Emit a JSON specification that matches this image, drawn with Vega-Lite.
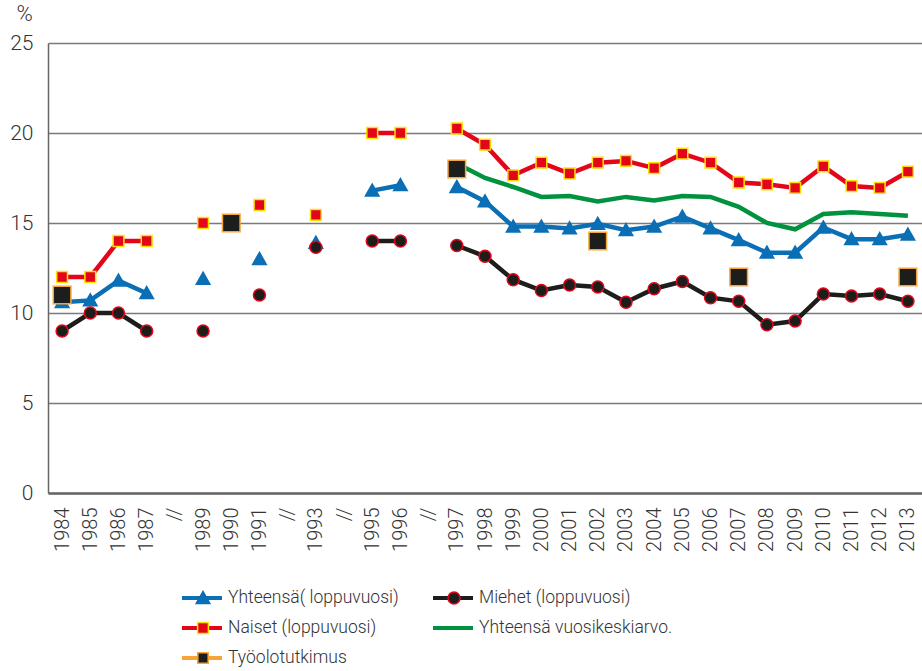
{
  "$schema": "https://vega.github.io/schema/vega-lite/v6.json",
  "width": 874,
  "height": 450,
  "autosize": {"type": "none"},
  "padding": {"left": 48, "top": 43, "right": 0, "bottom": 178},
  "background": "white",
  "config": {
    "view": {"stroke": null},
    "font": "Roboto",
    "axis": {"labelColor": "#333333", "titleColor": "#333333", "labelFont": "Roboto", "titleFont": "Roboto", "labelFontWeight": 300, "titleFontWeight": 300},
    "legend": {"labelFont": "Roboto", "labelFontWeight": 300}
  },
  "data": {
    "values": [
      {"year": "1984", "series": "Yhteensä( loppuvuosi)", "value": 10.6},
      {"year": "1985", "series": "Yhteensä( loppuvuosi)", "value": 10.7},
      {"year": "1986", "series": "Yhteensä( loppuvuosi)", "value": 11.8},
      {"year": "1987", "series": "Yhteensä( loppuvuosi)", "value": 11.1},
      {"year": "1988/", "series": "Yhteensä( loppuvuosi)", "value": null},
      {"year": "1989", "series": "Yhteensä( loppuvuosi)", "value": 11.9},
      {"year": "1990", "series": "Yhteensä( loppuvuosi)", "value": null},
      {"year": "1991", "series": "Yhteensä( loppuvuosi)", "value": 13.0},
      {"year": "1992/", "series": "Yhteensä( loppuvuosi)", "value": null},
      {"year": "1993", "series": "Yhteensä( loppuvuosi)", "value": 13.9},
      {"year": "1994/", "series": "Yhteensä( loppuvuosi)", "value": null},
      {"year": "1995", "series": "Yhteensä( loppuvuosi)", "value": 16.8},
      {"year": "1996", "series": "Yhteensä( loppuvuosi)", "value": 17.1},
      {"year": "1996/", "series": "Yhteensä( loppuvuosi)", "value": null},
      {"year": "1997", "series": "Yhteensä( loppuvuosi)", "value": 17.0},
      {"year": "1998", "series": "Yhteensä( loppuvuosi)", "value": 16.2},
      {"year": "1999", "series": "Yhteensä( loppuvuosi)", "value": 14.8},
      {"year": "2000", "series": "Yhteensä( loppuvuosi)", "value": 14.8},
      {"year": "2001", "series": "Yhteensä( loppuvuosi)", "value": 14.7},
      {"year": "2002", "series": "Yhteensä( loppuvuosi)", "value": 14.95},
      {"year": "2003", "series": "Yhteensä( loppuvuosi)", "value": 14.6},
      {"year": "2004", "series": "Yhteensä( loppuvuosi)", "value": 14.8},
      {"year": "2005", "series": "Yhteensä( loppuvuosi)", "value": 15.35},
      {"year": "2006", "series": "Yhteensä( loppuvuosi)", "value": 14.7},
      {"year": "2007", "series": "Yhteensä( loppuvuosi)", "value": 14.05},
      {"year": "2008", "series": "Yhteensä( loppuvuosi)", "value": 13.35},
      {"year": "2009", "series": "Yhteensä( loppuvuosi)", "value": 13.35},
      {"year": "2010", "series": "Yhteensä( loppuvuosi)", "value": 14.75},
      {"year": "2011", "series": "Yhteensä( loppuvuosi)", "value": 14.1},
      {"year": "2012", "series": "Yhteensä( loppuvuosi)", "value": 14.1},
      {"year": "2013", "series": "Yhteensä( loppuvuosi)", "value": 14.35},

      {"year": "1984", "series": "Miehet (loppuvuosi)", "value": 9.0},
      {"year": "1985", "series": "Miehet (loppuvuosi)", "value": 10.0},
      {"year": "1986", "series": "Miehet (loppuvuosi)", "value": 10.0},
      {"year": "1987", "series": "Miehet (loppuvuosi)", "value": 9.0},
      {"year": "1988/", "series": "Miehet (loppuvuosi)", "value": null},
      {"year": "1989", "series": "Miehet (loppuvuosi)", "value": 9.0},
      {"year": "1990", "series": "Miehet (loppuvuosi)", "value": null},
      {"year": "1991", "series": "Miehet (loppuvuosi)", "value": 11.0},
      {"year": "1992/", "series": "Miehet (loppuvuosi)", "value": null},
      {"year": "1993", "series": "Miehet (loppuvuosi)", "value": 13.65},
      {"year": "1994/", "series": "Miehet (loppuvuosi)", "value": null},
      {"year": "1995", "series": "Miehet (loppuvuosi)", "value": 14.0},
      {"year": "1996", "series": "Miehet (loppuvuosi)", "value": 14.0},
      {"year": "1996/", "series": "Miehet (loppuvuosi)", "value": null},
      {"year": "1997", "series": "Miehet (loppuvuosi)", "value": 13.75},
      {"year": "1998", "series": "Miehet (loppuvuosi)", "value": 13.15},
      {"year": "1999", "series": "Miehet (loppuvuosi)", "value": 11.85},
      {"year": "2000", "series": "Miehet (loppuvuosi)", "value": 11.25},
      {"year": "2001", "series": "Miehet (loppuvuosi)", "value": 11.55},
      {"year": "2002", "series": "Miehet (loppuvuosi)", "value": 11.45},
      {"year": "2003", "series": "Miehet (loppuvuosi)", "value": 10.6},
      {"year": "2004", "series": "Miehet (loppuvuosi)", "value": 11.35},
      {"year": "2005", "series": "Miehet (loppuvuosi)", "value": 11.75},
      {"year": "2006", "series": "Miehet (loppuvuosi)", "value": 10.85},
      {"year": "2007", "series": "Miehet (loppuvuosi)", "value": 10.65},
      {"year": "2008", "series": "Miehet (loppuvuosi)", "value": 9.35},
      {"year": "2009", "series": "Miehet (loppuvuosi)", "value": 9.55},
      {"year": "2010", "series": "Miehet (loppuvuosi)", "value": 11.05},
      {"year": "2011", "series": "Miehet (loppuvuosi)", "value": 10.95},
      {"year": "2012", "series": "Miehet (loppuvuosi)", "value": 11.05},
      {"year": "2013", "series": "Miehet (loppuvuosi)", "value": 10.65},

      {"year": "1984", "series": "Naiset (loppuvuosi)", "value": 12.0},
      {"year": "1985", "series": "Naiset (loppuvuosi)", "value": 12.0},
      {"year": "1986", "series": "Naiset (loppuvuosi)", "value": 14.0},
      {"year": "1987", "series": "Naiset (loppuvuosi)", "value": 14.0},
      {"year": "1988/", "series": "Naiset (loppuvuosi)", "value": null},
      {"year": "1989", "series": "Naiset (loppuvuosi)", "value": 15.0},
      {"year": "1990", "series": "Naiset (loppuvuosi)", "value": null},
      {"year": "1991", "series": "Naiset (loppuvuosi)", "value": 16.0},
      {"year": "1992/", "series": "Naiset (loppuvuosi)", "value": null},
      {"year": "1993", "series": "Naiset (loppuvuosi)", "value": 15.45},
      {"year": "1994/", "series": "Naiset (loppuvuosi)", "value": null},
      {"year": "1995", "series": "Naiset (loppuvuosi)", "value": 20.0},
      {"year": "1996", "series": "Naiset (loppuvuosi)", "value": 20.0},
      {"year": "1996/", "series": "Naiset (loppuvuosi)", "value": null},
      {"year": "1997", "series": "Naiset (loppuvuosi)", "value": 20.25},
      {"year": "1998", "series": "Naiset (loppuvuosi)", "value": 19.35},
      {"year": "1999", "series": "Naiset (loppuvuosi)", "value": 17.65},
      {"year": "2000", "series": "Naiset (loppuvuosi)", "value": 18.35},
      {"year": "2001", "series": "Naiset (loppuvuosi)", "value": 17.75},
      {"year": "2002", "series": "Naiset (loppuvuosi)", "value": 18.35},
      {"year": "2003", "series": "Naiset (loppuvuosi)", "value": 18.45},
      {"year": "2004", "series": "Naiset (loppuvuosi)", "value": 18.05},
      {"year": "2005", "series": "Naiset (loppuvuosi)", "value": 18.85},
      {"year": "2006", "series": "Naiset (loppuvuosi)", "value": 18.35},
      {"year": "2007", "series": "Naiset (loppuvuosi)", "value": 17.25},
      {"year": "2008", "series": "Naiset (loppuvuosi)", "value": 17.15},
      {"year": "2009", "series": "Naiset (loppuvuosi)", "value": 16.95},
      {"year": "2010", "series": "Naiset (loppuvuosi)", "value": 18.15},
      {"year": "2011", "series": "Naiset (loppuvuosi)", "value": 17.05},
      {"year": "2012", "series": "Naiset (loppuvuosi)", "value": 16.95},
      {"year": "2013", "series": "Naiset (loppuvuosi)", "value": 17.85},

      {"year": "1997", "series": "Yhteensä vuosikeskiarvo.", "value": 18.3},
      {"year": "1998", "series": "Yhteensä vuosikeskiarvo.", "value": 17.5},
      {"year": "1999", "series": "Yhteensä vuosikeskiarvo.", "value": 17.0},
      {"year": "2000", "series": "Yhteensä vuosikeskiarvo.", "value": 16.45},
      {"year": "2001", "series": "Yhteensä vuosikeskiarvo.", "value": 16.5},
      {"year": "2002", "series": "Yhteensä vuosikeskiarvo.", "value": 16.2},
      {"year": "2003", "series": "Yhteensä vuosikeskiarvo.", "value": 16.45},
      {"year": "2004", "series": "Yhteensä vuosikeskiarvo.", "value": 16.25},
      {"year": "2005", "series": "Yhteensä vuosikeskiarvo.", "value": 16.5},
      {"year": "2006", "series": "Yhteensä vuosikeskiarvo.", "value": 16.45},
      {"year": "2007", "series": "Yhteensä vuosikeskiarvo.", "value": 15.9},
      {"year": "2008", "series": "Yhteensä vuosikeskiarvo.", "value": 15.0},
      {"year": "2009", "series": "Yhteensä vuosikeskiarvo.", "value": 14.65},
      {"year": "2010", "series": "Yhteensä vuosikeskiarvo.", "value": 15.5},
      {"year": "2011", "series": "Yhteensä vuosikeskiarvo.", "value": 15.6},
      {"year": "2012", "series": "Yhteensä vuosikeskiarvo.", "value": 15.5},
      {"year": "2013", "series": "Yhteensä vuosikeskiarvo.", "value": 15.4},

      {"year": "1984", "series": "Työolotutkimus", "value": 11.0},
      {"year": "1990", "series": "Työolotutkimus", "value": 15.0},
      {"year": "1997", "series": "Työolotutkimus", "value": 18.0},
      {"year": "2002", "series": "Työolotutkimus", "value": 14.0},
      {"year": "2007", "series": "Työolotutkimus", "value": 12.0},
      {"year": "2013", "series": "Työolotutkimus", "value": 12.0}
    ]
  },
  "encoding": {
    "x": {
      "field": "year",
      "type": "ordinal",
      "scale": {
        "type": "point",
        "padding": 0.5,
        "domain": ["1984", "1985", "1986", "1987", "1988/", "1989", "1990", "1991", "1992/", "1993", "1994/", "1995", "1996", "1996/", "1997", "1998", "1999", "2000", "2001", "2002", "2003", "2004", "2005", "2006", "2007", "2008", "2009", "2010", "2011", "2012", "2013"]
      },
      "axis": {
        "title": null,
        "labelAngle": -90,
        "labelFontSize": 20,
        "labelPadding": 14,
        "labelExpr": "indexof(datum.value, '/') > 0 ? '//' : datum.value",
        "ticks": false,
        "grid": false,
        "domainColor": "#666666",
        "domainWidth": 2.5,
        "labelOverlap": false
      }
    },
    "y": {
      "field": "value",
      "type": "quantitative",
      "scale": {"domain": [0, 25], "nice": false, "zero": true},
      "axis": {
        "values": [0, 5, 10, 15, 20, 25],
        "title": "%",
        "titleAngle": 0,
        "titleX": -24,
        "titleY": -23,
        "titleAlign": "center",
        "titleBaseline": "alphabetic",
        "titleFontSize": 22,
        "labelFontSize": 21,
        "labelPadding": 15,
        "ticks": false,
        "grid": true,
        "gridColor": "#7a7a7a",
        "gridWidth": 1.3,
        "domainColor": "#666666",
        "domainWidth": 1.5
      }
    }
  },
  "layer": [
    {
      "transform": [{"filter": "datum.series !== 'Työolotutkimus'"}],
      "mark": {"type": "line", "strokeWidth": 4.5, "invalid": "break-paths-show-domains"},
      "encoding": {
        "stroke": {
          "field": "series",
          "type": "nominal",
          "scale": {
            "domain": ["Yhteensä( loppuvuosi)", "Miehet (loppuvuosi)", "Naiset (loppuvuosi)", "Yhteensä vuosikeskiarvo.", "Työolotutkimus"],
            "range": ["#0b6fb6", "#1d1d1b", "#e3061b", "#00923f", "#f5a537"]
          },
          "legend": null
        }
      }
    },
    {
      "transform": [{"filter": "false"}],
      "mark": {"type": "point", "filled": true, "opacity": 1, "size": 1600},
      "encoding": {
        "fill": {
          "field": "series",
          "type": "nominal",
          "scale": {
            "domain": ["Yhteensä( loppuvuosi)", "Miehet (loppuvuosi)", "Naiset (loppuvuosi)", "Yhteensä vuosikeskiarvo.", "Työolotutkimus"],
            "range": ["#0b6fb6", "#1d1d1b", "#e3061b", "#00923f", "#f5a537"]
          },
          "legend": {
            "orient": "none",
            "legendX": 134,
            "legendY": 545,
            "columns": 2,
            "direction": "horizontal",
            "title": null,
            "padding": 0,
            "symbolSize": 1600,
            "symbolOpacity": 1,
            "symbolStrokeWidth": 0,
            "clipHeight": 20,
            "rowPadding": 10,
            "columnPadding": 207,
            "labelOffset": 4,
            "labelFontSize": 17.5,
            "labelExpr": "''",
            "labelLimit": 400
          }
        },
        "shape": {
          "field": "series",
          "type": "nominal",
          "scale": {
            "domain": ["Yhteensä( loppuvuosi)", "Miehet (loppuvuosi)", "Naiset (loppuvuosi)", "Yhteensä vuosikeskiarvo.", "Työolotutkimus"],
            "range": ["M-1,-0.1H1V0.1H-1Z", "M-1,-0.1H1V0.1H-1Z", "M-1,-0.1H1V0.1H-1Z", "M-1,-0.1H1V0.1H-1Z", "M-1,-0.1H1V0.1H-1Z"]
          }
        }
      }
    },
    {
      "transform": [
        {"filter": "isValid(datum.value)"},
        {"filter": "datum.series !== 'Yhteensä vuosikeskiarvo.'"}
      ],
      "mark": {"type": "point", "filled": true, "opacity": 1, "size": 1600, "strokeWidth": 1.5},
      "encoding": {
        "fill": {
          "field": "series",
          "type": "nominal",
          "scale": {
            "domain": ["Yhteensä( loppuvuosi)", "Miehet (loppuvuosi)", "Naiset (loppuvuosi)", "Yhteensä vuosikeskiarvo.", "Työolotutkimus"],
            "range": ["#0b6fb6", "#1d1d1b", "#e3061b", "transparent", "#1d1d1b"]
          },
          "legend": {
            "orient": "none",
            "legendX": 134,
            "legendY": 545,
            "columns": 2,
            "direction": "horizontal",
            "title": null,
            "padding": 0,
            "symbolSize": 1600,
            "symbolOpacity": 1,
            "symbolStrokeWidth": 1.5,
            "clipHeight": 20,
            "rowPadding": 10,
            "columnPadding": 34,
            "labelOffset": 4,
            "labelFontSize": 17.5,
            "labelColor": "#333333",
            "labelLimit": 400,
            "encode": {
              "symbols": {
                "update": {
                  "size": {"signal": "datum.value === 'Työolotutkimus' ? 560 : 1600"}
                }
              }
            }
          }
        },
        "shape": {
          "field": "series",
          "type": "nominal",
          "scale": {
            "domain": ["Yhteensä( loppuvuosi)", "Miehet (loppuvuosi)", "Naiset (loppuvuosi)", "Yhteensä vuosikeskiarvo.", "Työolotutkimus"],
            "range": ["M0,-0.33L0.34,0.27L-0.34,0.27Z", "M-0.3,0A0.3,0.3,0,1,0,0.3,0A0.3,0.3,0,1,0,-0.3,0Z", "M-0.27,-0.27H0.27V0.27H-0.27Z", "M0,0H0.01V0.01H0Z", "M-0.44,-0.44H0.44V0.44H-0.44Z"]
          }
        },
        "stroke": {
          "field": "series",
          "type": "nominal",
          "scale": {
            "domain": ["Yhteensä( loppuvuosi)", "Miehet (loppuvuosi)", "Naiset (loppuvuosi)", "Yhteensä vuosikeskiarvo.", "Työolotutkimus"],
            "range": ["#0b6fb6", "#e3061b", "#ffe100", "transparent", "#f5a537"]
          }
        }
      }
    }
  ],
  "resolve": {
    "scale": {"fill": "independent", "shape": "independent", "stroke": "independent"},
    "legend": {"fill": "independent", "shape": "independent", "stroke": "independent"}
  }
}
